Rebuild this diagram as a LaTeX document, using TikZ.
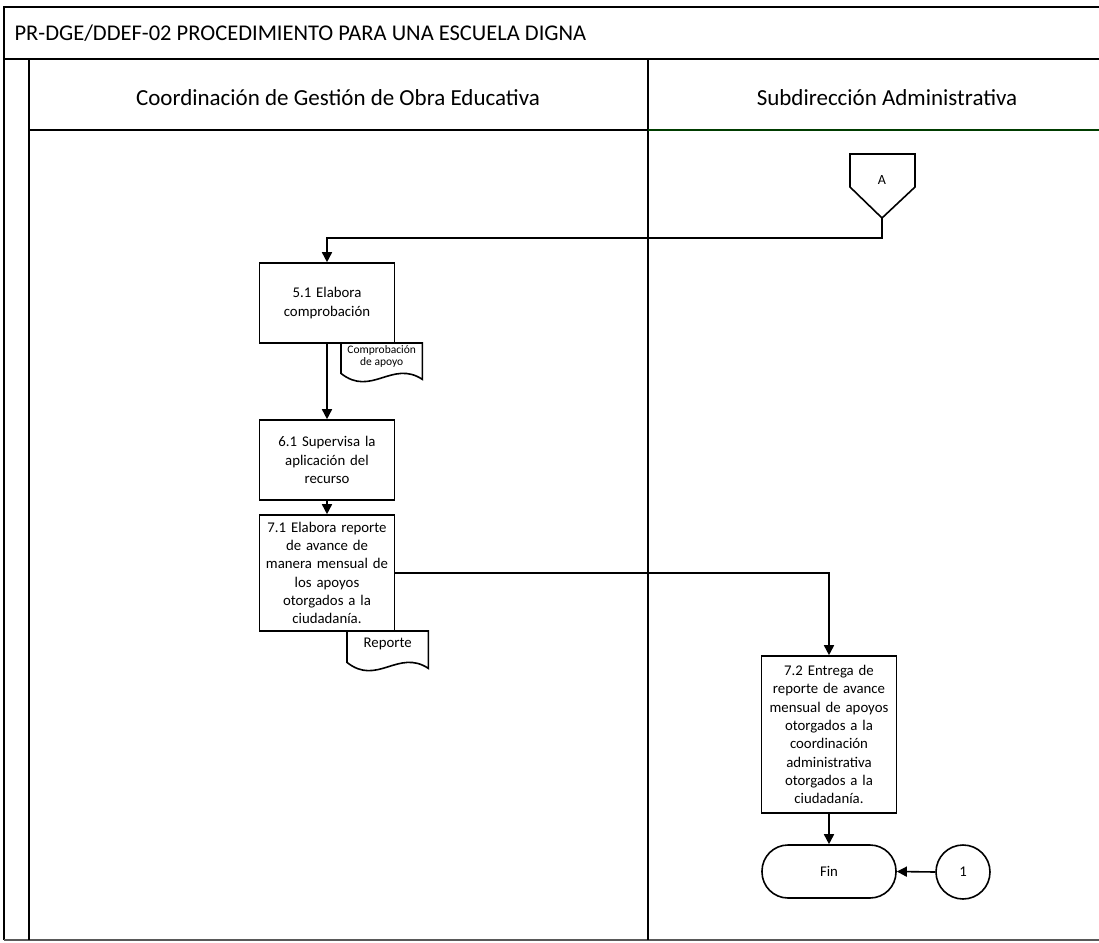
\documentclass[tikz,border=0pt]{standalone}
\usepackage{fontspec}
\setmainfont{Carlito}
\usetikzlibrary{calc,arrows.meta}
\def\documento(#1){\draw[linea] (#1.north west) -- (#1.north east) -- ($(#1.south east)+(0,-6)$) .. controls ($(#1.south east)+(-30,-26)$) and ($(#1.south west)+(30,12)$) .. ($(#1.south west)+(0,-12)$) -- cycle;}
\tikzset{
  marco/.style={line width=1.5pt, color=black},
  linea/.style={line width=1.6pt, color=black},
  flecha/.style={line width=1.6pt, -{Triangle[length=10pt,width=10pt]}},
  proceso/.style={draw, line width=1.6pt, minimum width=135, align=center, text width=132, inner sep=0pt, font=\fontsize{14.8}{18.3}\selectfont},
  doctexto/.style={align=center, inner sep=0pt, minimum width=81, font=\fontsize{11.5}{12.5}\selectfont}
}
\begin{document}
\begin{tikzpicture}[x=1pt, y=-1pt]
			%%%%% START %%%%%
			\useasboundingbox (0,0) rectangle (1099,942);
			
			\draw[marco] (1099,7) -- (4,7) -- (4,940);
			\draw[marco, color=black!65] (4,940) -- (1099,940);
			\draw[marco] (4,59) -- (1099,59);
			\draw[marco] (29,59) -- (29,940);
			\draw[marco] (648,59) -- (648,940);
			\draw[marco] (29,130) -- (648,130);
			\draw[marco, color=black!60!green!60!black] (648,130) -- (1099,130);
			
			\node[anchor=west, font=\fontsize{22.5}{24}\selectfont] (titulo) at (11,33) {PR-DGE/DDEF-02 PROCEDIMIENTO PARA UNA ESCUELA DIGNA};
			\node[font=\fontsize{23}{26}\selectfont] (carril1) at (338,98) {Coordinación de Gestión de Obra Educativa};
			\node[font=\fontsize{23}{26}\selectfont] (carril2) at (887,98) {Subdirección Administrativa};
			
			\draw[linea] (850,154) -- (915,154) -- (915,187) -- (882,218) -- (850,187) -- cycle;
			\node[font=\fontsize{14}{16}\selectfont] (conA) at (882,180) {A};
			\coordinate (conAtip) at (882,218);
			
			\node[proceso, minimum height=80] (p51) at (327,303) {5.1 Elabora\\comprobación};
			\node[doctexto, minimum height=42, anchor=north west] (docA) at (341,343) {Comprobación\\de apoyo\\[5pt]};
			\documento(docA)
			
			\node[proceso, minimum height=80] (p61) at (327,460) {6.1 Supervisa la\\aplicación del\\recurso};
			\node[proceso, minimum height=116] (p71) at (327,573) {7.1 Elabora reporte\\de avance de\\manera mensual de\\los apoyos\\otorgados a la\\ciudadanía.};
			\node[doctexto, minimum height=43, anchor=north west, font=\fontsize{14.8}{16}\selectfont] (docR) at (347,631) {Reporte\\[4pt]};
			\documento(docR)
			
			\node[proceso, minimum height=157] (p72) at (829,734.5) {7.2 Entrega de\\reporte de avance\\mensual de apoyos\\otorgados a la\\coordinación\\administrativa\\otorgados a la\\ciudadanía.};
			\node[draw, line width=1.6pt, minimum width=134, minimum height=53, rounded corners=26, font=\fontsize{14.8}{16}\selectfont] (fin) at (829,871.5) {Fin};
			\node[draw, circle, line width=1.6pt, minimum size=54, inner sep=0pt, font=\fontsize{14.8}{16}\selectfont] (con1) at (963,872) {1};
			
			\draw[flecha] (conAtip) -- ++(0,20) -| (p51.north);
			\draw[flecha] (p51.south) -- (p61.north);
			\draw[flecha] (p61.south) -- (p71.north);
			\draw[flecha] (p71.east) -| (p72.north);
			\draw[flecha] (p72.south) -- (fin.north);
			\draw[flecha] (con1.west) -- (fin.east);
			
			%%%%% END %%%%%
\end{tikzpicture}
\end{document}
